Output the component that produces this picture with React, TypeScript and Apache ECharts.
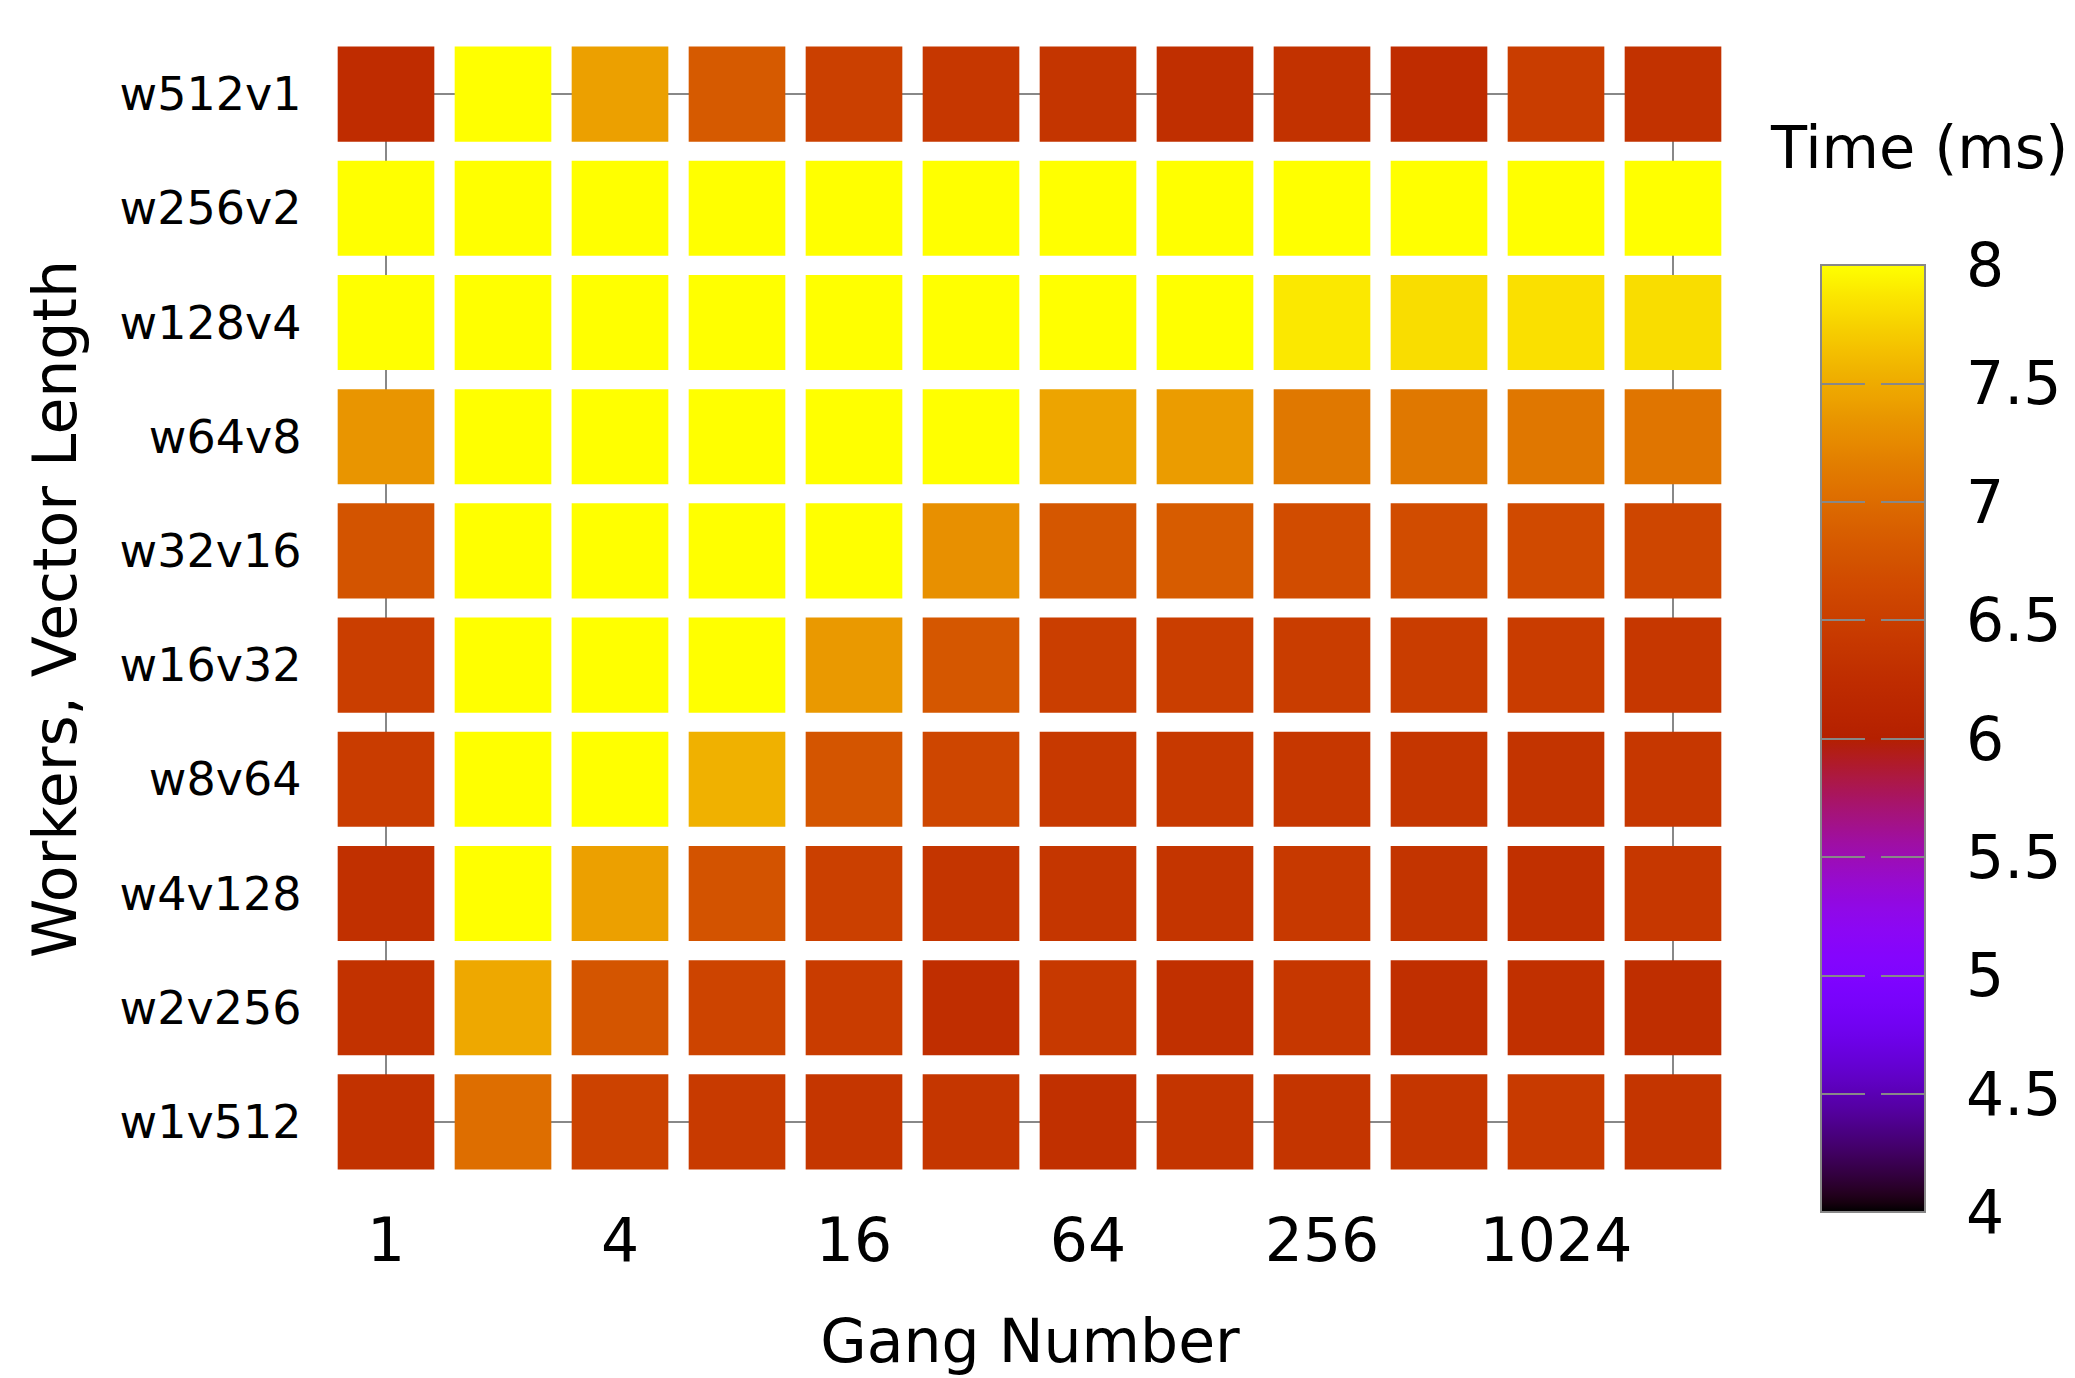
import React, { useEffect, useRef } from 'react';
import * as echarts from 'echarts';

const gangNumbers = ['1', '2', '4', '8', '16', '32', '64', '128', '256', '512', '1024', '2048'];
const configs = ['w512v1', 'w256v2', 'w128v4', 'w64v8', 'w32v16', 'w16v32', 'w8v64', 'w4v128', 'w2v256', 'w1v512'];

const w512v1 = [6.24, 8.0, 7.42, 6.83, 6.52, 6.4, 6.37, 6.28, 6.32, 6.24, 6.48, 6.32];
const w256v2 = [8.0, 8.0, 8.0, 8.0, 8.0, 8.0, 8.0, 8.0, 8.0, 8.0, 8.0, 8.0];
const w128v4 = [8.0, 8.0, 8.0, 8.0, 8.0, 8.0, 8.0, 8.0, 7.88, 7.81, 7.83, 7.81];
const w64v8 = [7.34, 8.0, 8.0, 8.0, 8.0, 8.0, 7.45, 7.39, 7.11, 7.11, 7.1, 7.08];
const w32v16 = [6.76, 8.0, 8.0, 8.0, 8.0, 7.31, 6.8, 6.85, 6.67, 6.67, 6.65, 6.6];
const w16v32 = [6.5, 8.0, 8.0, 8.0, 7.37, 6.8, 6.5, 6.5, 6.48, 6.48, 6.47, 6.4];
const w8v64 = [6.47, 8.0, 8.0, 7.54, 6.78, 6.6, 6.42, 6.42, 6.4, 6.38, 6.35, 6.4];
const w4v128 = [6.3, 8.0, 7.42, 6.75, 6.52, 6.37, 6.38, 6.37, 6.42, 6.35, 6.3, 6.4];
const w2v256 = [6.32, 7.48, 6.78, 6.57, 6.47, 6.27, 6.42, 6.3, 6.4, 6.28, 6.3, 6.26];
const w1v512 = [6.32, 7.02, 6.55, 6.44, 6.38, 6.38, 6.3, 6.37, 6.37, 6.38, 6.44, 6.37];

const rows = [w512v1, w256v2, w128v4, w64v8, w32v16, w16v32, w8v64, w4v128, w2v256, w1v512];

const colorMin = 4;
const colorMax = 8;
const colorStep = 0.5;

const FONT = 'DejaVu Sans';
const GRAY = '#888888';

// gnuplot default palette (rgbformulae 7,5,15)
function gnuplotColor(x: number): string {
  const r = Math.sqrt(x);
  const g = x * x * x;
  const b = Math.max(0, Math.min(1, Math.sin(2 * Math.PI * x)));
  return `rgb(${Math.round(r * 255)},${Math.round(g * 255)},${Math.round(b * 255)})`;
}

export default function App() {
  const ref = useRef<HTMLDivElement>(null);

  useEffect(() => {
    document.body.style.margin = '0';
    const chart = echarts.init(ref.current as HTMLDivElement, null, { renderer: 'svg' });

    const cells: number[][] = [];
    rows.forEach((row, yi) => row.forEach((v, xi) => cells.push([xi, yi, v])));

    const palette: string[] = [];
    for (let i = 0; i <= 80; i++) palette.push(gnuplotColor(i / 80));

    const option: any = {
      animation: false,
      textStyle: { fontFamily: FONT, color: '#000' },
      grid: [
        { left: 327.5, top: 37, width: 1404, height: 1142 },
        {
          left: 1821, top: 265, width: 104, height: 947,
          show: true, borderColor: GRAY, borderWidth: 2, backgroundColor: 'transparent', z: 10,
        },
      ],
      xAxis: [
        {
          type: 'category', gridIndex: 0, data: gangNumbers,
          axisLine: { show: false }, axisTick: { show: false }, splitLine: { show: false },
          axisLabel: { interval: 1, fontSize: 60, color: '#000', margin: 31, fontFamily: FONT },
        },
        { type: 'value', gridIndex: 1, show: false, min: 0, max: 1 },
      ],
      yAxis: [
        {
          type: 'category', gridIndex: 0, data: configs, inverse: true,
          axisLine: { show: false }, axisTick: { show: false }, splitLine: { show: false },
          axisLabel: { fontSize: 46, color: '#000', margin: 26, fontFamily: FONT },
        },
        {
          type: 'value', gridIndex: 1, position: 'left', min: colorMin, max: colorMax, interval: colorStep,
          axisLine: { show: false },
          axisTick: { show: true, inside: true, length: 44, lineStyle: { color: GRAY, width: 2 } },
          axisLabel: { show: false }, splitLine: { show: false }, z: 10,
        },
        {
          type: 'value', gridIndex: 1, position: 'right', min: colorMin, max: colorMax, interval: colorStep,
          axisLine: { show: false },
          axisTick: { show: true, inside: true, length: 44, lineStyle: { color: GRAY, width: 2 } },
          axisLabel: { fontSize: 60, color: '#000', margin: 41, fontFamily: FONT, formatter: (v: number) => String(v) },
          splitLine: { show: false }, z: 10,
        },
      ],
      visualMap: {
        type: 'continuous', min: colorMin, max: colorMax, seriesIndex: 1, dimension: 2,
        inRange: { color: palette },
        left: 1821, top: 265, itemWidth: 104, itemHeight: 947,
        calculable: false, padding: 0, hoverLink: false, orient: 'vertical',
      },
      series: [
        {
          type: 'line', xAxisIndex: 0, yAxisIndex: 0, silent: true,
          data: [[0, 0], [11, 0], [11, 9], [0, 9], [0, 0]],
          symbol: 'none', lineStyle: { color: GRAY, width: 2 }, z: 1,
        },
        {
          type: 'custom', xAxisIndex: 0, yAxisIndex: 0, data: cells, z: 2,
          encode: { x: 0, y: 1 },
          renderItem: (params: any, api: any) => {
            const c = api.coord([api.value(0), api.value(1)]);
            const s = api.size([1, 1]);
            const w = s[0] * 0.826;
            const h = s[1] * 0.833;
            return {
              type: 'rect',
              shape: { x: c[0] - w / 2, y: c[1] - h / 2, width: w, height: h },
              style: { fill: api.visual('color') },
            };
          },
        },
      ],
      graphic: [
        {
          type: 'text', x: 55, y: 609, rotation: Math.PI / 2,
          style: { text: 'Workers, Vector Length', fontSize: 60, lineHeight: 60, fontFamily: FONT, fill: '#000', align: 'center', verticalAlign: 'middle' },
        },
        {
          type: 'text', x: 1030, y: 1341,
          style: { text: 'Gang Number', fontSize: 60, lineHeight: 46, fontFamily: FONT, fill: '#000', align: 'center', verticalAlign: 'middle' },
        },
        {
          type: 'text', x: 1771, y: 147,
          style: { text: 'Time (ms)', fontSize: 59, lineHeight: 60, fontFamily: FONT, fill: '#000', align: 'left', verticalAlign: 'middle' },
        },
      ],
    };

    chart.setOption(option);
    return () => chart.dispose();
  }, []);

  return <div ref={ref} style={{ width: 2075, height: 1378 }} />;
}
